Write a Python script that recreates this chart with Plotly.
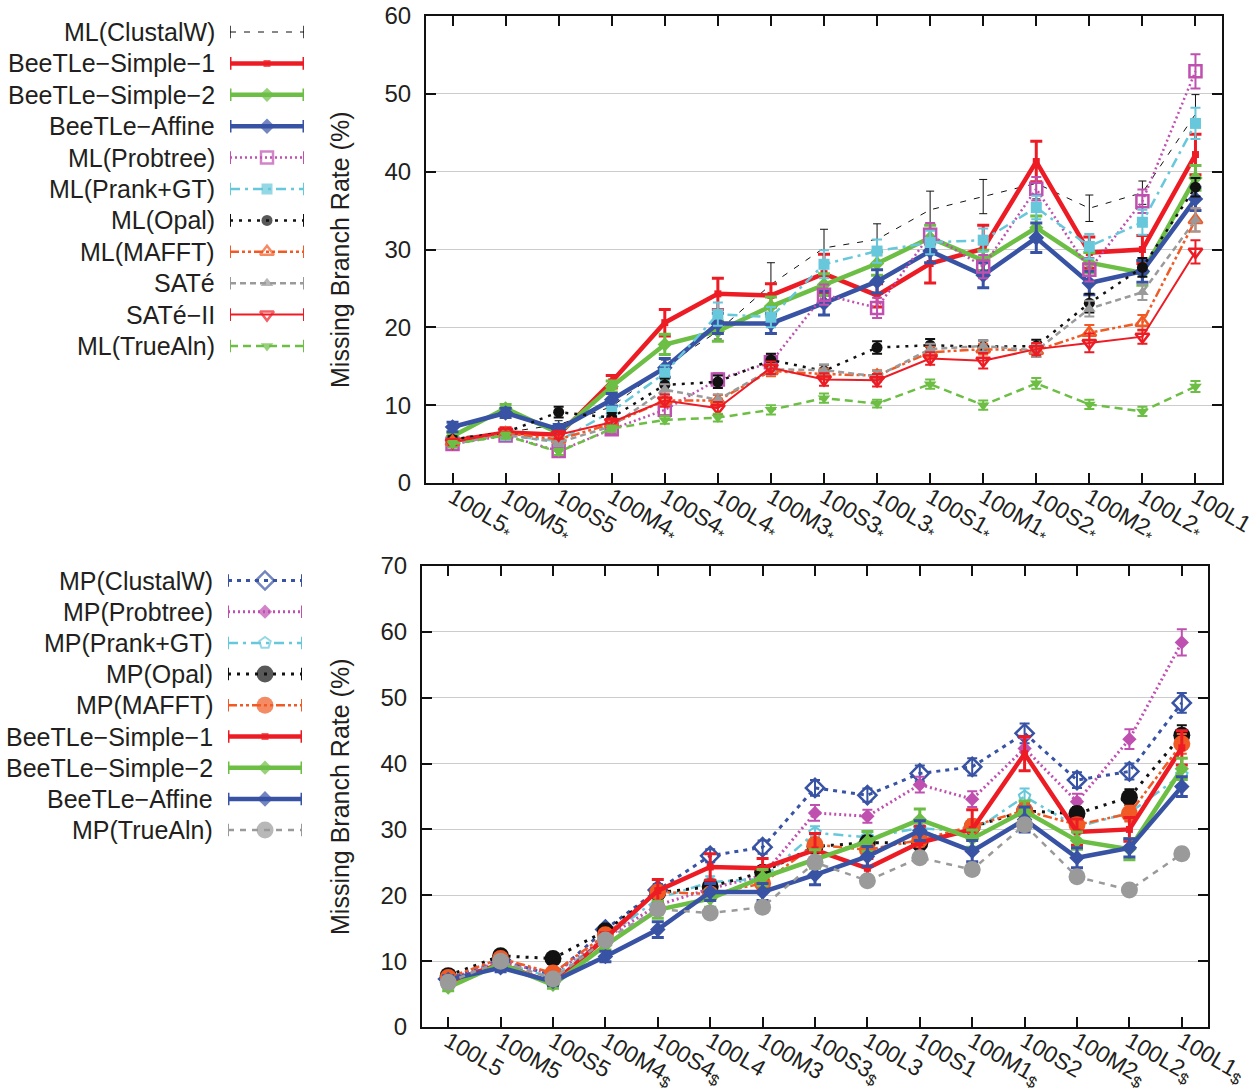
import plotly.graph_objects as go

W, H = 1260, 1090

# ---------------- data ----------------
top_categories = ["100L5*", "100M5*", "100S5", "100M4*", "100S4*", "100L4*", "100M3*", "100S3*",
                  "100L3*", "100S1*", "100M1*", "100S2*", "100M2*", "100L2*", "100L1"]
bot_categories = ["100L5", "100M5", "100S5", "100M4$", "100S4$", "100L4", "100M3", "100S3$",
                  "100L3", "100S1", "100M1$", "100S2", "100M2$", "100L2$", "100L1$"]

# BeeTLe results
beetle_simple1 = [5.4, 6.5, 6.2, 13.0, 20.6, 24.3, 24.1, 26.9, 24.1, 28.2, 30.1, 41.3, 29.6, 30.0, 42.2]
beetle_simple1_err = [0.6, 0.6, 0.6, 0.8, 1.7, 2.0, 1.5, 2.5, 1.5, 2.5, 3.0, 2.6, 2.0, 1.8, 2.6]
beetle_simple1_mp = [6.8, 9.6, 6.6, 13.5, 20.7, 24.3, 24.1, 26.9, 24.1, 28.0, 30.0, 41.5, 29.6, 30.0, 42.4]
beetle_simple2 = [6.0, 9.6, 6.4, 12.4, 17.8, 19.5, 22.7, 25.5, 28.2, 31.5, 28.6, 32.8, 28.3, 27.0, 39.2]
beetle_simple2_err = [0.5, 0.5, 0.5, 0.7, 1.3, 1.3, 1.2, 1.4, 1.5, 1.6, 1.3, 1.5, 1.3, 1.6, 1.6]
beetle_affine = [7.2, 9.0, 6.9, 10.7, 14.8, 20.5, 20.5, 23.1, 25.9, 29.8, 26.7, 31.5, 25.7, 27.2, 36.5]
beetle_affine_err = [0.6, 0.6, 0.6, 0.8, 1.2, 1.3, 1.3, 1.5, 1.5, 1.5, 1.6, 1.9, 1.5, 1.4, 1.5]

# Top panel (ML)
ml_clustalw = [5.8, 6.5, 7.5, 9.8, 15.0, 19.5, 25.5, 30.2, 31.3, 35.1, 36.8, 38.5, 35.3, 37.3, 47.4]
ml_clustalw_err = [0.4, 0.4, 0.5, 0.6, 0.8, 1.0, 2.8, 2.4, 2.0, 2.4, 2.2, 2.0, 1.7, 1.5, 2.5]
ml_probtree = [5.0, 6.1, 4.1, 6.9, 9.4, 13.3, 15.5, 24.2, 22.5, 31.9, 27.8, 37.8, 27.4, 36.2, 52.9]
ml_probtree_err = [0.4, 0.4, 0.5, 0.5, 0.7, 0.8, 1.0, 1.3, 1.3, 1.5, 1.5, 1.5, 1.5, 1.5, 2.2]
ml_prank = [5.3, 6.1, 5.4, 9.2, 14.1, 21.7, 21.3, 28.1, 29.8, 30.9, 31.2, 35.4, 30.4, 33.5, 46.2]
ml_prank_err = [0.4, 0.4, 0.5, 0.6, 1.0, 1.5, 1.3, 1.8, 1.5, 1.5, 1.5, 1.5, 1.6, 1.6, 2.0]
ml_opal = [5.6, 6.5, 9.1, 8.4, 12.6, 13.0, 15.8, 14.4, 17.4, 17.7, 17.5, 17.6, 23.1, 27.7, 38.0]
ml_opal_err = [0.4, 0.4, 0.7, 0.6, 0.8, 0.8, 0.8, 0.8, 0.8, 0.8, 0.8, 0.8, 1.2, 1.2, 1.2]
ml_mafft = [5.3, 6.4, 5.6, 7.6, 10.6, 10.6, 14.4, 14.0, 13.8, 16.8, 17.2, 17.0, 19.3, 20.6, 33.8]
ml_mafft_err = [0.4, 0.4, 0.4, 0.5, 0.7, 0.7, 0.7, 0.7, 0.7, 0.7, 0.7, 0.8, 1.0, 1.0, 1.5]
sate = [5.0, 6.2, 5.2, 7.3, 12.0, 10.7, 14.6, 14.5, 13.7, 17.2, 17.6, 17.0, 22.4, 24.5, 33.8]
sate_err = [0.4, 0.4, 0.4, 0.5, 0.7, 0.7, 0.7, 0.7, 0.7, 0.7, 0.7, 0.8, 1.0, 1.0, 1.5]
sate2 = [5.2, 6.6, 6.2, 7.8, 10.6, 9.6, 14.8, 13.3, 13.2, 16.0, 15.7, 17.2, 18.0, 18.8, 29.7]
sate2_err = [0.4, 0.4, 0.5, 0.5, 0.8, 0.8, 0.8, 0.8, 0.8, 0.8, 1.0, 0.8, 1.2, 0.9, 1.5]
ml_truealn = [5.0, 6.1, 4.0, 7.0, 8.1, 8.4, 9.4, 10.9, 10.2, 12.7, 10.0, 12.8, 10.1, 9.2, 12.4]
ml_truealn_err = [0.4, 0.4, 0.4, 0.4, 0.5, 0.5, 0.6, 0.6, 0.5, 0.6, 0.6, 0.7, 0.6, 0.6, 0.7]

# Bottom panel (MP)
mp_clustalw = [7.3, 10.2, 7.8, 14.8, 20.8, 26.0, 27.3, 36.3, 35.2, 38.5, 39.5, 44.6, 37.5, 38.8, 49.2]
mp_clustalw_err = [0.4, 0.5, 0.5, 0.7, 0.9, 1.0, 1.0, 1.2, 1.0, 1.2, 1.3, 1.5, 1.2, 1.2, 1.5]
mp_probtree = [7.2, 10.0, 8.0, 13.5, 18.5, 21.0, 23.0, 32.5, 32.0, 36.8, 34.6, 42.3, 34.2, 43.7, 58.4]
mp_probtree_err = [0.4, 0.5, 0.5, 0.6, 0.8, 0.9, 0.9, 1.2, 1.0, 1.2, 1.2, 1.5, 1.2, 1.5, 2.0]
mp_prank = [7.0, 9.8, 7.5, 13.5, 19.5, 22.0, 22.5, 29.5, 28.8, 30.2, 29.6, 35.0, 30.4, 32.5, 38.3]
mp_prank_err = [0.4, 0.5, 0.5, 0.6, 0.8, 0.9, 0.9, 1.0, 1.0, 1.0, 1.0, 1.2, 1.0, 1.2, 1.5]
mp_opal = [7.8, 10.8, 10.4, 14.6, 20.4, 21.3, 23.5, 27.4, 28.0, 27.9, 30.4, 32.8, 32.4, 34.9, 44.3]
mp_opal_err = [0.4, 0.5, 0.5, 0.6, 0.8, 0.9, 0.9, 1.0, 1.0, 1.0, 1.0, 1.2, 1.0, 1.2, 1.5]
mp_mafft = [7.5, 10.4, 8.2, 14.0, 20.5, 20.2, 21.8, 27.7, 26.9, 28.4, 30.5, 32.9, 30.7, 32.4, 43.0]
mp_mafft_err = [0.4, 0.5, 0.5, 0.6, 0.8, 0.9, 0.9, 1.0, 1.0, 1.0, 1.0, 1.2, 1.0, 1.2, 1.5]
mp_truealn = [6.8, 10.0, 7.3, 13.2, 17.9, 17.3, 18.2, 25.0, 22.2, 25.7, 23.9, 30.7, 22.8, 20.8, 26.3]
mp_truealn_err = [0.4, 0.4, 0.4, 0.5, 0.6, 0.6, 0.6, 0.8, 0.7, 0.8, 0.8, 0.9, 0.8, 0.8, 0.9]

# ---------------- styles ----------------
RED, GREEN, BLUE = "#ED1C24", "#6CBE45", "#3852A4"
MAGENTA, CYAN, ORANGE, GREY, BLACK = "#BF50B0", "#66C8DA", "#F15A24", "#9A9A9A", "#111111"
DASHDOTDOT = "9px,3px,3px,3px,3px,3px"

S = {
    "ml_clustalw": dict(color=BLACK, width=1, dash="6px,8px", symbol="circle", size=0, mlw=0, ew=1, cap=4, mode="lines"),
    "simple1": dict(color=RED, width=4.5, dash="solid", symbol="square", size=7, mlw=0, ew=3, cap=6),
    "simple2": dict(color=GREEN, width=4.5, dash="solid", symbol="diamond", size=11, mlw=0, ew=3, cap=6),
    "affine": dict(color=BLUE, width=4.5, dash="solid", symbol="diamond", size=12, mlw=0, ew=3, cap=6),
    "ml_probtree": dict(color=MAGENTA, width=2.5, dash="2px,3px", symbol="square-open", size=12, mlw=2.5, ew=2, cap=5),
    "ml_prank": dict(color=CYAN, width=2.5, dash="10px,5px,3px,5px", symbol="square", size=11, mlw=0, ew=2, cap=5),
    "ml_opal": dict(color=BLACK, width=2.5, dash="3px,6px", symbol="circle", size=11, mlw=0, ew=2, cap=5),
    "ml_mafft": dict(color=ORANGE, width=2.5, dash=DASHDOTDOT, symbol="triangle-up-open", size=12, mlw=2.5, ew=2, cap=5),
    "sate": dict(color=GREY, width=2.5, dash="6px,4px", symbol="triangle-up", size=11, mlw=0, ew=2, cap=5),
    "sate2": dict(color=RED, width=2, dash="solid", symbol="triangle-down-open", size=12, mlw=2.5, ew=2, cap=5),
    "ml_truealn": dict(color=GREEN, width=2.5, dash="8px,5px", symbol="triangle-down", size=11, mlw=0, ew=2, cap=5),
    "mp_clustalw": dict(color=BLUE, width=3, dash="4px,5px", symbol="diamond-open", size=14, mlw=2.5, ew=2, cap=5),
    "mp_probtree": dict(color=MAGENTA, width=3, dash="2px,3px", symbol="diamond", size=11, mlw=0, ew=2, cap=5),
    "mp_prank": dict(color=CYAN, width=2.5, dash="10px,5px,3px,5px", symbol="pentagon-open", size=12, mlw=2, ew=2, cap=5),
    "mp_opal": dict(color=BLACK, width=3, dash="3px,6px", symbol="circle", size=17, mlw=0, ew=2, cap=5),
    "mp_mafft": dict(color=ORANGE, width=2.5, dash=DASHDOTDOT, symbol="circle", size=17, mlw=0, ew=2, cap=5),
    "mp_truealn": dict(color=GREY, width=2.5, dash="6px,6px", symbol="circle", size=17, mlw=0, ew=2, cap=5),
}

top_series = [
    ("ML(ClustalW)", ml_clustalw, ml_clustalw_err, "ml_clustalw"),
    ("BeeTLe\u2212Simple\u22121", beetle_simple1, beetle_simple1_err, "simple1"),
    ("BeeTLe\u2212Simple\u22122", beetle_simple2, beetle_simple2_err, "simple2"),
    ("BeeTLe\u2212Affine", beetle_affine, beetle_affine_err, "affine"),
    ("ML(Probtree)", ml_probtree, ml_probtree_err, "ml_probtree"),
    ("ML(Prank+GT)", ml_prank, ml_prank_err, "ml_prank"),
    ("ML(Opal)", ml_opal, ml_opal_err, "ml_opal"),
    ("ML(MAFFT)", ml_mafft, ml_mafft_err, "ml_mafft"),
    ("SATé", sate, sate_err, "sate"),
    ("SATé\u2212II", sate2, sate2_err, "sate2"),
    ("ML(TrueAln)", ml_truealn, ml_truealn_err, "ml_truealn"),
]
bot_series = [
    ("MP(ClustalW)", mp_clustalw, mp_clustalw_err, "mp_clustalw"),
    ("MP(Probtree)", mp_probtree, mp_probtree_err, "mp_probtree"),
    ("MP(Prank+GT)", mp_prank, mp_prank_err, "mp_prank"),
    ("MP(Opal)", mp_opal, mp_opal_err, "mp_opal"),
    ("MP(MAFFT)", mp_mafft, mp_mafft_err, "mp_mafft"),
    ("BeeTLe\u2212Simple\u22121", beetle_simple1_mp, beetle_simple1_err, "simple1"),
    ("BeeTLe\u2212Simple\u22122", beetle_simple2, beetle_simple2_err, "simple2"),
    ("BeeTLe\u2212Affine", beetle_affine, beetle_affine_err, "affine"),
    ("MP(TrueAln)", mp_truealn, mp_truealn_err, "mp_truealn"),
]


def px_x(p):
    return p / W


def px_y(p):
    return 1 - p / H


def fmt(lbl):
    if lbl[-1] in "*$":
        return lbl[:-1] + "<sub>" + lbl[-1] + "</sub>"
    return lbl


fig = go.Figure()


def add_series(cats, vals, errs, st, xa, ya, name):
    fig.add_trace(go.Scatter(
        x=cats, y=vals, name=name, mode=st.get("mode", "lines+markers"), xaxis=xa, yaxis=ya,
        showlegend=False,
        line=dict(color=st["color"], width=st["width"], dash=st["dash"]),
        marker=dict(symbol=st["symbol"], size=st["size"], color=st["color"],
                    line=dict(width=st["mlw"], color=st["color"])),
        error_y=dict(type="data", array=errs, visible=True, color=st["color"],
                     thickness=st["ew"], width=st["cap"]),
    ))


def add_legend_row(row, st, xa, ya):
    fig.add_trace(go.Scatter(
        x=[0, 0.5, 1], y=[row, row, row], mode=st.get("mode", "lines+markers"), xaxis=xa, yaxis=ya,
        showlegend=False, hoverinfo="skip",
        line=dict(color=st["color"], width=st["width"], dash=st["dash"]),
        marker=dict(symbol=st["symbol"], size=[0, st["size"], 0], color=st["color"],
                    line=dict(width=[0, st["mlw"], 0], color=st["color"])),
        error_y=dict(type="data", array=[0.2, 0, 0.2], visible=True, color=st["color"],
                     thickness=max(st["ew"], 1.5), width=0),
    ))


for name, vals, errs, key in top_series:
    add_series(top_categories, vals, errs, S[key], "x", "y", name)
for name, vals, errs, key in bot_series:
    add_series(bot_categories, vals, errs, S[key], "x2", "y2", name)

annotations = []
TXT = 25
top_row0, top_step = 32.0, 31.4
for k, (name, _, _, key) in enumerate(top_series):
    add_legend_row(k, S[key], "x3", "y3")
    annotations.append(dict(x=px_x(217), y=px_y(top_row0 + k * top_step), xref="paper", yref="paper",
                            text=name, showarrow=False, xanchor="right", yanchor="middle",
                            font=dict(size=TXT)))
bot_row0, bot_step = 580.5, 31.2
for k, (name, _, _, key) in enumerate(bot_series):
    add_legend_row(k, S[key], "x4", "y4")
    annotations.append(dict(x=px_x(215), y=px_y(bot_row0 + k * bot_step), xref="paper", yref="paper",
                            text=name, showarrow=False, xanchor="right", yanchor="middle",
                            font=dict(size=TXT)))

for yc in (250, 797):
    annotations.append(dict(x=px_x(340), y=px_y(yc), xref="paper", yref="paper",
                            text="Missing Branch Rate (%)", showarrow=False, textangle=-90,
                            xanchor="center", yanchor="middle", font=dict(size=TXT)))

common_x = dict(type="category", range=[-0.5, 14.5], showline=True, linewidth=2, linecolor=BLACK,
                mirror="allticks", ticks="inside", ticklen=10, tickwidth=1.5, tickcolor=BLACK,
                tickangle=30, tickfont=dict(size=23), showgrid=False, zeroline=False,
                automargin=False, ticklabelstandoff=-10)
common_y = dict(showline=True, linewidth=2, linecolor=BLACK, mirror="allticks", ticks="inside",
                ticklen=10, tickwidth=1.5, tickcolor=BLACK, dtick=10, tickfont=dict(size=24),
                showgrid=True, gridcolor="#cccccc", gridwidth=1, zeroline=False,
                ticklabelstandoff=8, automargin=False)
hidden = dict(visible=False, showgrid=False, zeroline=False, fixedrange=True, automargin=False)

fig.update_layout(
    width=W, height=H, margin=dict(l=0, r=0, t=0, b=0, pad=0, autoexpand=False), autosize=False,
    paper_bgcolor="white", plot_bgcolor="white",
    font=dict(family="Liberation Sans, Arial, sans-serif", size=TXT, color="#231F20"),
    showlegend=False,
    xaxis=dict(common_x, domain=[px_x(426), px_x(1222)], anchor="y",
               tickvals=top_categories, ticktext=[fmt(c) for c in top_categories]),
    yaxis=dict(common_y, domain=[px_y(483), px_y(16)], anchor="x", range=[0, 60]),
    xaxis2=dict(common_x, domain=[px_x(422), px_x(1208)], anchor="y2",
                tickvals=bot_categories, ticktext=[fmt(c) for c in bot_categories]),
    yaxis2=dict(common_y, domain=[px_y(1027), px_y(566)], anchor="x2", range=[0, 70]),
    xaxis3=dict(hidden, domain=[px_x(230), px_x(304)], range=[0, 1], anchor="y3"),
    yaxis3=dict(hidden, domain=[px_y(top_row0 + 10.5 * top_step), px_y(top_row0 - 0.5 * top_step)],
                range=[10.5, -0.5], anchor="x3"),
    xaxis4=dict(hidden, domain=[px_x(228), px_x(302)], range=[0, 1], anchor="y4"),
    yaxis4=dict(hidden, domain=[px_y(bot_row0 + 8.5 * bot_step), px_y(bot_row0 - 0.5 * bot_step)],
                range=[8.5, -0.5], anchor="x4"),
    annotations=annotations,
)

fig.write_html(
    "out.html",
    config={"displayModeBar": False},
    post_script="document.body.style.margin='0';document.body.style.padding='0';"
                "document.body.style.overflow='hidden';",
)
